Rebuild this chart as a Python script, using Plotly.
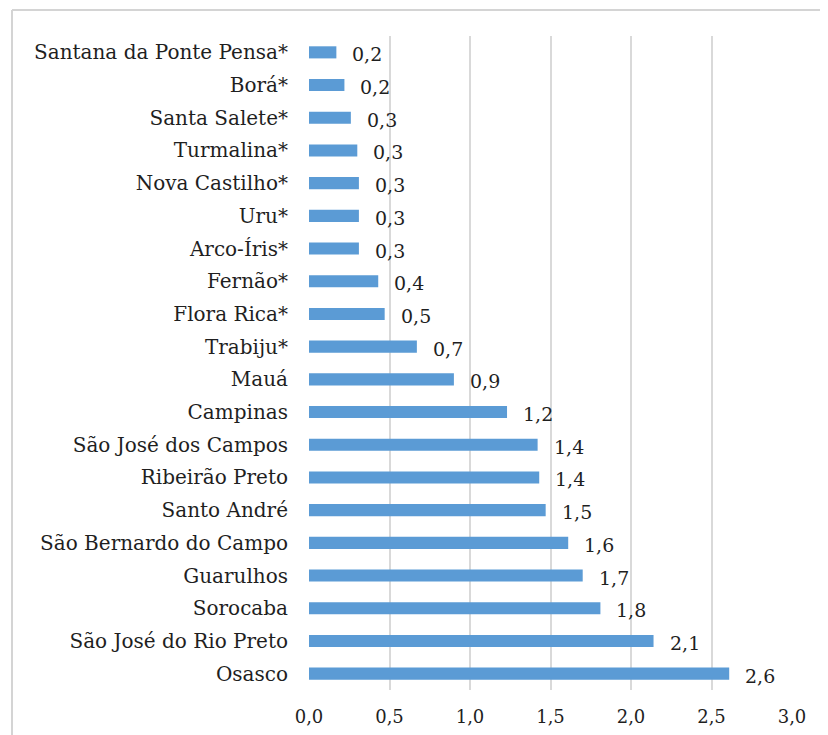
import plotly.graph_objects as go

categories = [
    "Santana da Ponte Pensa*", "Borá*", "Santa Salete*", "Turmalina*",
    "Nova Castilho*", "Uru*", "Arco-Íris*", "Fernão*", "Flora Rica*",
    "Trabiju*", "Mauá", "Campinas", "São José dos Campos", "Ribeirão Preto",
    "Santo André", "São Bernardo do Campo", "Guarulhos", "Sorocaba",
    "São José do Rio Preto", "Osasco",
]
values = [0.17, 0.22, 0.26, 0.30, 0.31, 0.31, 0.31, 0.43, 0.47, 0.67,
          0.90, 1.23, 1.42, 1.43, 1.47, 1.61, 1.70, 1.81, 2.14, 2.61]
x_ticks = [0.0, 0.5, 1.0, 1.5, 2.0, 2.5, 3.0]
x_ticklabels = ["0,0", "0,5", "1,0", "1,5", "2,0", "2,5", "3,0"]

FONT = "DejaVu Serif"
TXT = "#1f1f1f"

fig = go.Figure()
fig.add_trace(go.Bar(
    x=values, y=categories, orientation="h",
    marker=dict(color="#5B9BD5", line=dict(width=0)),
    hoverinfo="x+y",
))

annotations = []
for c, v in zip(categories, values):
    annotations.append(dict(
        x=v, y=c, xref="x", yref="y", text=f"{v:.1f}".replace(".", ","),
        showarrow=False, xanchor="left", yanchor="middle", xshift=14, yshift=-2,
        font=dict(family=FONT, size=19, color=TXT),
    ))

# page body adds an 8px offset; compensate
OFF = 8
W, H = 828 - OFF, 735 - OFF
ml, mt = 309 - OFF, 36 - OFF
plot_right = 792 - OFF
plot_bottom = 690 - OFF
mr = W - plot_right
mb = H - plot_bottom
pw = W - ml - mr
ph = H - mt - mb

def px_to_paper_x(px):
    return (px - OFF - ml) / pw

def px_to_paper_y(py):
    return 1 - (py - OFF - mt) / ph

frame = "#d4d4d4"
shapes = [
    dict(type="line", xref="paper", yref="paper",
         x0=px_to_paper_x(12), x1=px_to_paper_x(840),
         y0=px_to_paper_y(10), y1=px_to_paper_y(10),
         line=dict(color=frame, width=2)),
    dict(type="line", xref="paper", yref="paper",
         x0=px_to_paper_x(12), x1=px_to_paper_x(12),
         y0=px_to_paper_y(10), y1=px_to_paper_y(750),
         line=dict(color=frame, width=2)),
]

fig.update_layout(
    width=W, height=H,
    margin=dict(l=ml, r=mr, t=mt, b=mb, autoexpand=False),
    paper_bgcolor="white", plot_bgcolor="white",
    bargap=0.63,
    showlegend=False,
    annotations=annotations,
    shapes=shapes,
    font=dict(family=FONT, color=TXT),
    xaxis=dict(
        range=[0, 3.0], tickvals=x_ticks, ticktext=x_ticklabels,
        showgrid=True, gridcolor="#d9d9d9", gridwidth=1.5,
        zeroline=False, showline=False, ticks="",
        tickfont=dict(family=FONT, size=18, color=TXT),
        ticklabelstandoff=14,
        fixedrange=True,
    ),
    yaxis=dict(
        categoryorder="array", categoryarray=categories[::-1],
        showgrid=False, zeroline=False, showline=False, ticks="",
        tickfont=dict(family=FONT, size=20, color=TXT),
        ticklabelstandoff=20,
        fixedrange=True,
    ),
)

fig.write_html("out.html")
